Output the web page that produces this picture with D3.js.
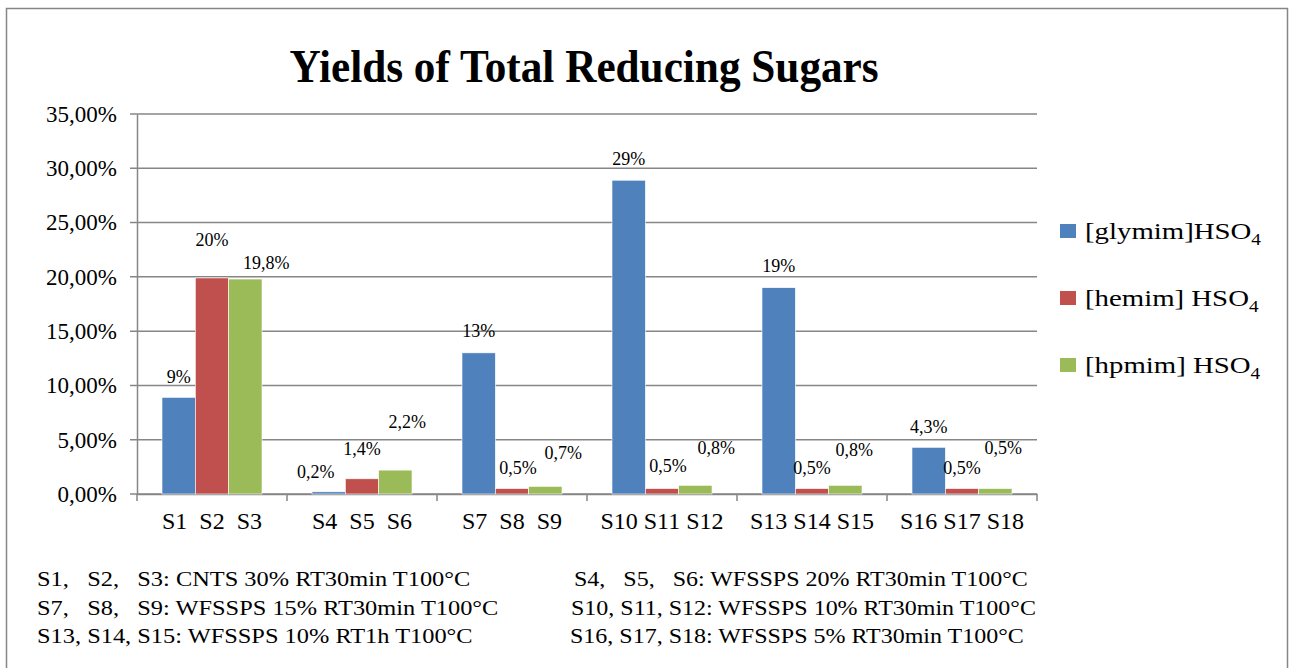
<!DOCTYPE html>
<html>
<head>
<meta charset="utf-8">
<script src="https://cdn.jsdelivr.net/npm/d3@7"></script>
<style>
  body { margin: 0; background: #fff; }
  svg { display: block; font-family: "Liberation Serif", "Times New Roman", serif; }
  text { white-space: pre; }
</style>
</head>
<body>
<svg id="chart" width="1292" height="668"></svg>
<script>
// data
const groups = ["S1  S2  S3", "S4  S5  S6", "S7  S8  S9", "S10 S11 S12", "S13 S14 S15", "S16 S17 S18"];
const seriesNames = ["[glymim]HSO", "[hemim] HSO", "[hpmim] HSO"];
const glymim = [8.9, 0.2, 13, 28.9, 19, 4.3];
const hemim = [19.9, 1.4, 0.5, 0.5, 0.5, 0.5];
const hpmim = [19.8, 2.2, 0.7, 0.8, 0.8, 0.5];
const glymimLabels = ["9%", "0,2%", "13%", "29%", "19%", "4,3%"];
const hemimLabels = ["20%", "1,4%", "0,5%", "0,5%", "0,5%", "0,5%"];
const hpmimLabels = ["19,8%", "2,2%", "0,7%", "0,8%", "0,8%", "0,5%"];
const yTicks = [0, 5, 10, 15, 20, 25, 30, 35];
const notesLeft = [
  "S1,   S2,   S3: CNTS 30% RT30min T100°C",
  "S7,   S8,   S9: WFSSPS 15% RT30min T100°C",
  "S13, S14, S15: WFSSPS 10% RT1h T100°C"
];
const notesRight = [
  "S4,   S5,   S6: WFSSPS 20% RT30min T100°C",
  "S10, S11, S12: WFSSPS 10% RT30min T100°C",
  "S16, S17, S18: WFSSPS 5% RT30min T100°C"
];

const colors = ["#4F81BD", "#C0504D", "#9BBB59"];

// manual label nudges (dx, dy) like the hand-moved labels in the original
const labelNudge = [
  [[0, -20], [-13, -20], [0, -22], [0, -21], [0, -22], [0, -20]],
  [[0, -38], [0, -30], [6, -21], [6, -23], [0, -21], [0, -21]],
  [[21, -16], [12, -48], [18, -33], [21, -37], [9, -35], [8, -41]]
];

const svg = d3.select("#chart");
const gridColor = "#868686";

// outer frame
svg.append("rect")
  .attr("x", 6.5).attr("y", 8.5)
  .attr("width", 1281).attr("height", 680)
  .attr("fill", "none")
  .attr("stroke", gridColor)
  .attr("stroke-width", 1.5);

const plotLeft = 137, plotRight = 1037, plotTop = 114, plotBottom = 494;

const x0 = d3.scaleBand().domain(groups).range([plotLeft, plotRight]).padding(0);
const x1 = d3.scaleBand().domain(d3.range(3)).range([0, x0.bandwidth()])
  .paddingInner(0).paddingOuter(0.75);
const y = d3.scaleLinear().domain([0, 35]).range([plotBottom, plotTop]);

// title (the original is a bit narrow for its height)
svg.append("text")
  .attr("transform", "translate(584,82) scale(0.94,1)")
  .attr("text-anchor", "middle")
  .style("font-size", "46px")
  .style("font-weight", "bold")
  .text("Yields of Total Reducing Sugars");

// grid lines
svg.append("g")
  .selectAll("line")
  .data(yTicks)
  .join("line")
  .attr("x1", plotLeft - 7).attr("x2", plotRight)
  .attr("y1", d => y(d)).attr("y2", d => y(d))
  .attr("stroke", gridColor)
  .attr("stroke-width", 1.5);

// y axis
const yAxis = svg.append("g")
  .attr("transform", `translate(${plotLeft},0)`)
  .call(d3.axisLeft(y).tickValues(yTicks).tickSize(0).tickPadding(20)
    .tickFormat(d => d3.format(".2f")(d).replace(".", ",") + "%"));
yAxis.select(".domain").attr("stroke", gridColor).attr("stroke-width", 1.5);
yAxis.selectAll("text")
  .attr("fill", "#000")
  .style("font-size", "23px")
  .style("font-family", "Liberation Serif, serif");

// x axis
const xAxis = svg.append("g")
  .attr("transform", `translate(0,${plotBottom})`)
  .call(d3.axisBottom(x0).tickSize(0).tickPadding(18));
xAxis.select(".domain").attr("stroke", gridColor).attr("stroke-width", 1.5);
xAxis.selectAll("text")
  .attr("fill", "#000")
  .style("font-size", "24px")
  .style("font-family", "Liberation Serif, serif");

// group separators on x axis
svg.append("g")
  .selectAll("line")
  .data(groups.concat(["end"]))
  .join("line")
  .attr("x1", (d, i) => plotLeft + i * x0.step())
  .attr("x2", (d, i) => plotLeft + i * x0.step())
  .attr("y1", plotBottom).attr("y2", plotBottom + 7)
  .attr("stroke", gridColor)
  .attr("stroke-width", 1.5);

// bars
const allSeries = [glymim, hemim, hpmim];
const allLabels = [glymimLabels, hemimLabels, hpmimLabels];

allSeries.forEach((values, s) => {
  svg.append("g")
    .selectAll("rect")
    .data(values)
    .join("rect")
    .attr("x", (d, i) => x0(groups[i]) + x1(s))
    .attr("y", d => y(d))
    .attr("width", x1.bandwidth())
    .attr("height", d => y(0) - y(d))
    .attr("fill", colors[s])
    .attr("stroke", "#fff")
    .attr("stroke-width", 0.6);

  svg.append("g")
    .selectAll("text")
    .data(values)
    .join("text")
    .attr("x", (d, i) => x0(groups[i]) + x1(s) + x1.bandwidth() / 2 + labelNudge[s][i][0])
    .attr("y", (d, i) => y(d) + labelNudge[s][i][1])
    .attr("text-anchor", "middle")
    .attr("dominant-baseline", "central")
    .style("font-size", "18px")
    .text((d, i) => allLabels[s][i]);
});

// legend
const legend = svg.append("g")
  .selectAll("g")
  .data(seriesNames)
  .join("g")
  .attr("transform", (d, i) => `translate(1060,${231 + i * 67})`);

legend.append("rect")
  .attr("x", 0).attr("y", -7)
  .attr("width", 16).attr("height", 14)
  .attr("fill", (d, i) => colors[i]);

const legendText = legend.append("text")
  .attr("transform", "translate(25,8) scale(1.2,1)")
  .style("font-size", "24px");
legendText.append("tspan").text(d => d);
legendText.append("tspan")
  .attr("dy", 6)
  .style("font-size", "16px")
  .text("4");

// footnotes (stretched wide in the original)
svg.append("g")
  .selectAll("text")
  .data(notesLeft)
  .join("text")
  .attr("transform", (d, i) => `translate(37,${586 + i * 28.5}) scale(1.22,1)`)
  .style("font-size", "20px")
  .text(d => d);

svg.append("g")
  .selectAll("text")
  .data(notesRight)
  .join("text")
  .attr("transform", (d, i) => `translate(${[574, 571, 570][i]},${586 + i * 28.5}) scale(1.2,1)`)
  .style("font-size", "20px")
  .text(d => d);
</script>
</body>
</html>
